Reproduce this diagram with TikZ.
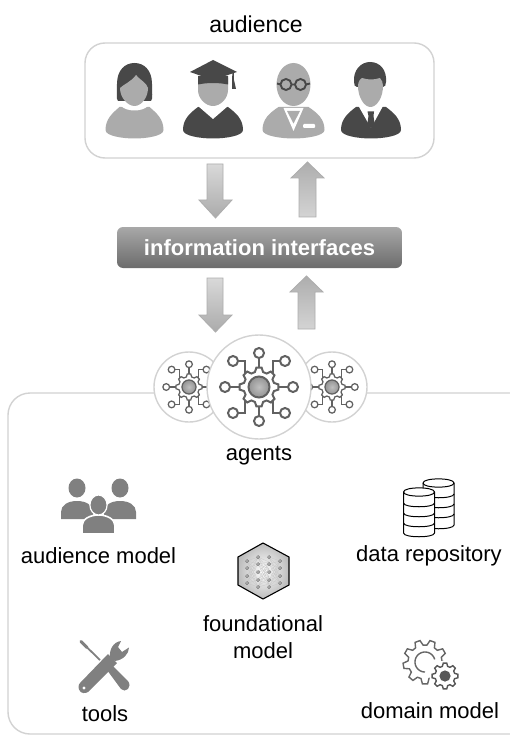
\documentclass[tikz,border=0pt]{standalone}
\usepackage{fontspec}
\setmainfont{Liberation Sans}
\definecolor{pdark}{HTML}{484848}
\definecolor{plight}{HTML}{ABABAB}
\definecolor{iconc}{HTML}{808080}
\definecolor{rimc}{HTML}{D2D2D2}
\tikzset{
  lbl/.style={font=\fontsize{22}{24}\selectfont,text=black,inner sep=0pt,align=center},
  arrowshape/.style={draw=black!32,line width=0.8pt},
  dnarrow/.style={arrowshape,top color=black!15,bottom color=black!33},
  uparrow/.style={arrowshape,top color=black!32,bottom color=black!17},
  rim/.style={draw=rimc,line width=1.4pt},
}
\newcommand\gearshape[7]{% options cx cy r1 r2 n phase
  \pgfmathsetmacro\gst{360/#6}
  \pgfmathtruncatemacro\glast{#6-1}
  \path[#1] ({#2+#4*cos(#7-0.34*\gst)},{#3+#4*sin(#7-0.34*\gst)})
    \foreach \k [evaluate=\k as \a using #7+\k*\gst] in {0,...,\glast}{
      -- ({#2+#4*cos(\a-0.34*\gst)},{#3+#4*sin(\a-0.34*\gst)})
      -- ({#2+#5*cos(\a-0.17*\gst)},{#3+#5*sin(\a-0.17*\gst)})
      -- ({#2+#5*cos(\a+0.17*\gst)},{#3+#5*sin(\a+0.17*\gst)})
      -- ({#2+#4*cos(\a+0.34*\gst)},{#3+#4*sin(\a+0.34*\gst)})
    } -- cycle;
}
\newcommand\bustbody[3]{% cx hw colour
  \fill[#3] ({#1-#2},130) .. controls ({#1-#2},119) and ({#1-#2+7},113) .. ({#1-15},107)
    -- ({#1+15},107) .. controls ({#1+#2-7},113) and ({#1+#2},119) .. ({#1+#2},130)
    .. controls ({#1+#2},136) and ({#1+12},138.5) .. (#1,138.5)
    .. controls ({#1-12},138.5) and ({#1-#2},136) .. ({#1-#2},130) -- cycle;
}
\newcommand\agenticon[4]{% cx cy scale lw
  \begin{scope}[shift={(#1,#2)},scale=#3,line width=#4]
    \foreach \ang in {0,90,180,270}{
      \draw[draw=black!62] ({18*cos(\ang)},{18*sin(\ang)}) -- ({29*cos(\ang)},{29*sin(\ang)});
      \draw[draw=black!62,fill=white] ({34*cos(\ang)},{34*sin(\ang)}) circle[radius=5pt];
    }
    \foreach \sx/\sy in {-1/-1,1/-1,-1/1,1/1}{
      \draw[draw=black!62] ({14*\sx},{12*\sy}) -- ({14*\sx},{26*\sy}) -- ({21*\sx},{26*\sy});
      \draw[draw=black!62,fill=white] ({26*\sx},{26*\sy}) circle[radius=5pt];
    }
    \gearshape{draw=black!62,fill=white,line width=#4}{0}{0}{15.5}{19.5}{8}{0}
    \draw[draw=black!62,inner color=black!25,outer color=black!42] (0,0) circle[radius=10.5pt];
  \end{scope}
}
\newcommand\cylinder[4]{% cx topy bottomy bands
  \draw[black,line width=1pt,fill=white] ({#1-15.5},#2) -- ({#1-15.5},#3)
    .. controls ({#1-15.5},{#3+5}) and ({#1+15.5},{#3+5}) .. ({#1+15.5},#3) -- ({#1+15.5},#2)
    .. controls ({#1+15.5},{#2-5.5}) and ({#1-15.5},{#2-5.5}) .. ({#1-15.5},#2) -- cycle;
  \draw[black,line width=1pt] ({#1-15.5},#2) .. controls ({#1-15.5},{#2+5.5}) and ({#1+15.5},{#2+5.5}) .. ({#1+15.5},#2);
  \foreach \yy in {#4}{
    \draw[black,line width=1pt] ({#1-15.5},\yy) .. controls ({#1-15.5},{\yy+5}) and ({#1+15.5},{\yy+5}) .. ({#1+15.5},\yy);
  }
}
\begin{document}
\begin{tikzpicture}[x=1pt,y=-1pt]
\useasboundingbox (0,0) rectangle (509,735);
\fill[white] (0,0) rectangle (509,735);

% audience
\node[lbl,font=\fontsize{23}{24}\selectfont] (audlabel) at (256,24) {audience};
\draw[rim,rounded corners=20pt,fill=white] (85,43) rectangle (434,158);

% woman
\bustbody{134.5}{29}{plight}
\fill[pdark] (117,84) .. controls (117,70) and (125,63) .. (134.5,63)
  .. controls (144,63) and (152,70) .. (152,84) .. controls (152,92) and (153,99) .. (151,101)
  -- (118,101) .. controls (116,99) and (117,92) .. (117,84) -- cycle;
\fill[white] (121,106) .. controls (127,112) and (142,112) .. (148,106) -- cycle;
\fill[plight] (120,88) .. controls (124,84) and (131,82) .. (136,75) .. controls (140,80) and (147,83) .. (148,88)
  .. controls (148,98) and (141,106) .. (134.5,106) .. controls (128,106) and (120,98) .. (120,88) -- cycle;

% graduate
\bustbody{213}{30}{pdark}
\fill[white] (198,106) -- (213,119) -- (228,106) -- cycle;
\fill[plight] (198,78) -- (228,78) -- (228,90) .. controls (228,99) and (220,106) .. (213,106)
  .. controls (206,106) and (198,99) .. (198,90) -- cycle;
\fill[pdark] (198,76) -- (228,76) -- (228,84.5) .. controls (218,82.5) and (208,82.5) .. (198,84.5) -- cycle;
\fill[pdark] (190,72) -- (213,60) -- (237,72) -- (213,80) -- cycle;
\fill[pdark] (232.3,73) -- (233.8,73) -- (233.8,79) -- (236,89) -- (232,89) -- cycle;

% teacher
\bustbody{293.5}{31}{plight}
\fill[white] (283.5,108) -- (293.5,131) -- (303.5,108) -- cycle;
\fill[plight] (287,111) -- (300,111) -- (293.5,123.5) -- cycle;
\fill[white,rounded corners=1pt] (303,124) rectangle (315,128);
\fill[plight] (293.5,84.5) ellipse[x radius=17pt,y radius=21.5pt];
\draw[pdark,line width=1.9pt] (286,84.5) circle[radius=5.5pt] (300.5,84.5) circle[radius=5.5pt]
  (291.5,84.5) -- (295,84.5) (280.5,84.5) -- (277,83.5) (306,84.5) -- (310,83.5);

% businessman
\bustbody{371}{30}{pdark}
\fill[white] (358.5,106) -- (371,128) -- (383,106) -- cycle;
\fill[pdark] (367.5,111.5) -- (374,111.5) -- (373.5,116) -- (375,126) -- (371,128) -- (367,126) -- (368.5,116) -- cycle;
\fill[pdark] (354,82) .. controls (353,70) and (361,62) .. (370,62) .. controls (380,62) and (387,70) .. (386,82)
  .. controls (386,85) and (385,87) .. (383,87) -- (357,87) .. controls (355,87) and (354,85) .. (354,82) -- cycle;
\fill[plight] (358,86) .. controls (358,82) and (360,79) .. (362,78) .. controls (368,80) and (374,80) .. (380,78)
  .. controls (382,80) and (383,83) .. (383,86) .. controls (383,97) and (377,107) .. (370.5,107)
  .. controls (364,107) and (358,97) .. (358,86) -- cycle;

% arrows
\draw[dnarrow] (207,164) -- (223,164) -- (223,200) -- (232,200) -- (215.5,218) -- (199,200) -- (207,200) -- cycle;
\draw[uparrow] (299,217) -- (316,217) -- (316,178) -- (324,178) -- (307.5,162) -- (291,178) -- (299,178) -- cycle;
\draw[dnarrow] (207,278) -- (223,278) -- (223,315) -- (232,315) -- (215.5,332) -- (199,315) -- (207,315) -- cycle;
\draw[uparrow] (298,329) -- (315,329) -- (315,292) -- (323,292) -- (306.5,276) -- (290,292) -- (298,292) -- cycle;

% interfaces
\node[rounded corners=6pt,top color=black!34,bottom color=black!58,draw=none,minimum width=285pt,minimum height=41pt,
  inner sep=0pt,text=white,font=\fontsize{22}{24}\bfseries\selectfont] (iface) at (259.5,247.5) {information interfaces};

% panel
\draw[rim,rounded corners=22pt] (516,393) -- (8,393) -- (8,734) -- (516,734);

% agents
\draw[rim,fill=white] (189,387) circle[radius=35pt];
\draw[rim,fill=white] (332,387) circle[radius=35pt];
\agenticon{189}{387}{0.67}{1.25pt}
\agenticon{332}{387}{0.67}{1.25pt}
\draw[rim,fill=white] (259,387) circle[radius=52pt];
\agenticon{259}{387}{1}{2pt}
\node[lbl] (agentslabel) at (259,456) {agents};

% audience model icon
\fill[iconc] (77,488) ellipse[x radius=8.5pt,y radius=9.5pt];
\fill[iconc] (120,488) ellipse[x radius=8.5pt,y radius=9.5pt];
\fill[iconc] (61,519) -- (61,512) .. controls (61,505) and (68,501) .. (77,501) .. controls (86,501) and (93,505) .. (93,512) -- (93,519) -- cycle;
\fill[iconc] (104,519) -- (104,512) .. controls (104,505) and (111,501) .. (120,501) .. controls (129,501) and (136,505) .. (136,512) -- (136,519) -- cycle;
\draw[white,line width=1.6pt,fill=iconc] (82,534) -- (82,526) .. controls (82,519) and (90,515) .. (98.5,515) .. controls (107,515) and (115,519) .. (115,526) -- (115,534) -- cycle;
\draw[white,line width=1.2pt,fill=iconc] (98.5,505) ellipse[x radius=8.6pt,y radius=10pt];
\node[lbl] (audmodel) at (98.5,556) {audience model};

% data repository
\cylinder{438.5}{483}{525}{494,504,514}
\cylinder{419}{492}{533}{503,513,523}
\node[lbl] (datarepo) at (429,555.5) {data repository};

% foundational model
\draw[black,line width=1.1pt,inner color=white,outer color=black!26] (263,543) -- (289,557) -- (289,585) -- (263,599) -- (238,585) -- (238,557) -- cycle;
\foreach \ya in {561,568,576,583}{
  \foreach \yb in {557,564,572,580,587}{
    \draw[black!22,line width=0.25pt] (247,\ya) -- (258,\yb);
    \draw[black!22,line width=0.25pt] (280,\ya) -- (269,\yb);
    \draw[black!22,line width=0.25pt] (258,\yb) -- (269,\ya+1);
  }
}
\foreach \nx in {247,280}{\foreach \ny in {561,568,576,583}{\draw[black!70,line width=0.5pt,fill=white] (\nx,\ny) circle[radius=1.4pt];}}
\foreach \nx in {258,269}{\foreach \ny in {557,564,572,580,587}{\draw[black!70,line width=0.5pt,fill=white] (\nx,\ny) circle[radius=1.4pt];}}
\node[lbl,align=center,font=\fontsize{22}{27}\selectfont] (foundmodel) at (263,637.5) {foundational\\model};

% tools
\fill[iconc] (107,670) -- (112,665) -- (128,681) .. controls (130,684) and (130,687) .. (128,689) .. controls (126,691) and (123,691) .. (121,689) -- cycle;
\draw[iconc,line width=1.8pt] (82,642.5) -- (100,660);
\draw[iconc,line width=3pt,line cap=round] (81,641.5) -- (87,647.5);
\fill[iconc] (80,683) -- (108,654) -- (117,663) -- (88,692) .. controls (85,694) and (81,693) .. (80,691) .. controls (78,689) and (78,685) .. (80,683) -- cycle;
\fill[iconc] (110,658) .. controls (109,650) and (113,642) .. (121,641) -- (118,647) -- (122,652) -- (129,647.5) .. controls (129,654) and (123,660) .. (115,661) -- cycle;
\fill[white] (84,688) circle[radius=1.6pt];
\node[lbl] (toolslabel) at (105,714) {tools};

% domain model
\gearshape{draw=black!60,line width=1.4pt,fill=white}{425}{662}{17}{22}{9}{10}
\draw[black!60,line width=1.4pt] plot[domain=-15:-270,samples=40] ({425+10*cos(\x)},{662+10*sin(\x)});
\fill[white] (445,676) circle[radius=15.5pt];
\gearshape{draw=black!66,line width=1.4pt,fill=white}{445}{676}{10}{13}{8}{0}
\fill[black!66] (445,676) circle[radius=5.6pt];
\node[lbl] (domainlabel) at (430,711) {domain model};
\end{tikzpicture}
\end{document}
